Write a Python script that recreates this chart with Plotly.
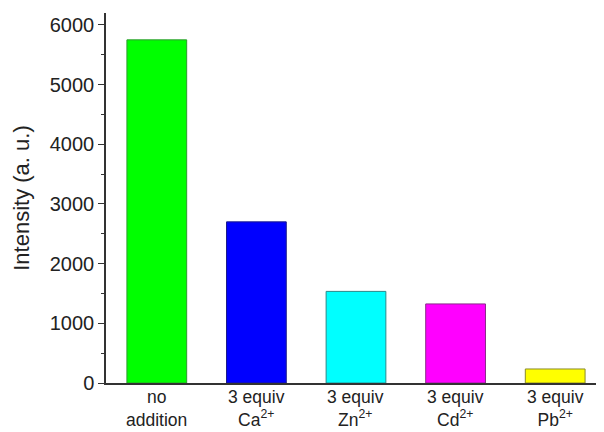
import plotly.graph_objects as go

categories = ["no<br>addition", "3 equiv<br>Ca<sup>2+</sup>", "3 equiv<br>Zn<sup>2+</sup>",
              "3 equiv<br>Cd<sup>2+</sup>", "3 equiv<br>Pb<sup>2+</sup>"]
values = [5750, 2700, 1535, 1325, 235]
colors = ["#00ff00", "#0000ff", "#00ffff", "#ff00ff", "#ffff00"]
edge_colors = ["#2f9a2f", "#1a1a8a", "#2a8a8a", "#8a2a8a", "#8a8a2a"]
y_ticks = [0, 1000, 2000, 3000, 4000, 5000, 6000]

x_pos = list(range(len(values)))

fig = go.Figure()
fig.add_trace(go.Bar(
    x=x_pos, y=values, width=0.6,
    marker=dict(color=colors, line=dict(color=edge_colors, width=1)),
))

font_family = "Liberation Sans, Arial, sans-serif"
for xi, lab in zip(x_pos, categories):
    fig.add_annotation(x=xi, xref="x", y=0, yref="paper", text=lab, showarrow=False,
                       yanchor="top", yshift=-3, borderpad=0, font=dict(size=17.5))

fig.update_layout(
    width=596, height=424,
    margin=dict(l=98, r=1, t=5, b=49),
    paper_bgcolor="white", plot_bgcolor="white",
    showlegend=False,
    font=dict(family=font_family, color="#222222", size=19),
    xaxis=dict(
        range=[-0.51, 4.48], tickvals=x_pos, showticklabels=False,
        showline=True, linecolor="#333333", linewidth=1.5,
        ticks="", showgrid=False, zeroline=False,
    ),
    yaxis=dict(
        range=[0, 6200], tickvals=y_ticks,
        showline=True, linecolor="#333333", linewidth=1.5,
        ticks="outside", ticklen=6, tickwidth=1.2, tickcolor="#333333",
        minor=dict(dtick=500, ticks="outside", ticklen=3, tickwidth=1.2, tickcolor="#333333"),
        showgrid=False, zeroline=False,
        tickfont=dict(size=20),
        title=dict(text="Intensity (a. u.)", font=dict(size=22), standoff=14),
    ),
)

fig.write_html("out.html")
